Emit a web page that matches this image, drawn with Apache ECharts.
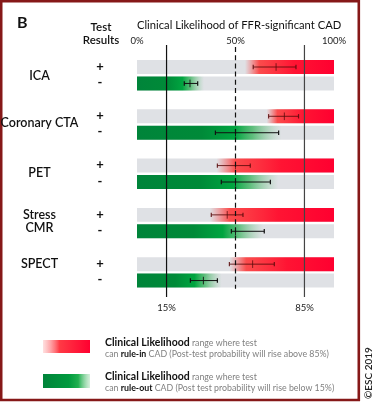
<!DOCTYPE html>
<html>
<head>
<meta charset="utf-8">
<script src="https://cdn.jsdelivr.net/npm/echarts@6/dist/echarts.min.js"></script>
<style>html,body{margin:0;padding:0;background:#fff}#c{width:374px;height:404px}</style>
</head>
<body>
<div id="c"></div>
<script>
// ---- data ----
const tests = ['ICA', 'Coronary CTA', 'PET', 'Stress\nCMR', 'SPECT'];
const ruleInStart = [54.8, 65.8, 40.4, 37.0, 46.9];   // red range starts here, runs to 100%
const ruleOutEnd  = [34.0, 73.4, 71.7, 64.1, 43.0];   // green range runs from 0% to here
const posLow  = [59.0, 66.8, 40.8, 37.7, 46.9];
const posMid  = [70.6, 74.8, 50.0, 45.8, 58.7];
const posHigh = [80.7, 82.0, 57.5, 53.8, 69.7];
const negLow  = [24.0, 39.8, 42.8, 47.9, 27.1];
const negMid  = [26.9, 50.0, 50.0, 50.0, 33.7];
const negHigh = [30.8, 71.9, 67.7, 64.6, 40.8];
const topTicks = [0, 50, 100];
const bottomTicks = [15, 85];
const refLines = [15, 50, 85];

// ---- build ----
const FONT = 'Lato';
const barData = [];
tests.forEach((t, i) => {
  barData.push([ruleInStart[i], 100, posLow[i], posMid[i], posHigh[i], 3 * i, 0]);
  barData.push([0, ruleOutEnd[i], negLow[i], negMid[i], negHigh[i], 3 * i + 1, 1]);
});

const redGrad = () => new echarts.graphic.LinearGradient(0, 0, 1, 0, [
  {offset: 0, color: 'rgba(255,70,70,0)'},
  {offset: 0.16, color: 'rgba(255,55,55,0.88)'},
  {offset: 0.55, color: '#ff1433'},
  {offset: 1, color: '#ff0030'}
]);
const greenGrad = () => new echarts.graphic.LinearGradient(0, 0, 1, 0, [
  {offset: 0, color: '#00843a'},
  {offset: 0.45, color: '#008a38'},
  {offset: 0.68, color: '#00a540'},
  {offset: 0.8, color: 'rgba(40,175,80,0.7)'},
  {offset: 1, color: 'rgba(120,200,140,0)'}
]);

function renderBar(params, api) {
  const slot = api.value(5), kind = api.value(6);
  const p0 = api.coord([0, slot]), p100 = api.coord([100, slot]);
  const h = api.size([0, 1])[1] * 0.85;
  const y = p0[1];
  const s = api.coord([api.value(0), slot])[0], e = api.coord([api.value(1), slot])[0];
  const lo = api.coord([api.value(2), slot])[0], mid = api.coord([api.value(3), slot])[0], hi = api.coord([api.value(4), slot])[0];
  const ec = kind === 0 ? 'rgba(90,10,10,0.85)' : '#111';
  return {
    type: 'group',
    children: [
      {type: 'rect', shape: {x: p0[0], y: y - h / 2, width: p100[0] - p0[0], height: h}, style: {fill: '#dfe1e5'}},
      {type: 'rect', shape: {x: s, y: y - h / 2, width: e - s, height: h}, style: {fill: kind === 0 ? redGrad() : greenGrad()}},
      {type: 'line', shape: {x1: lo, y1: y, x2: hi, y2: y}, style: {stroke: ec, lineWidth: 1}},
      {type: 'line', shape: {x1: lo, y1: y - 2.2, x2: lo, y2: y + 2.2}, style: {stroke: ec, lineWidth: 1.2}},
      {type: 'line', shape: {x1: hi, y1: y - 2.2, x2: hi, y2: y + 2.2}, style: {stroke: ec, lineWidth: 1.2}},
      {type: 'line', shape: {x1: mid, y1: y - 3.8, x2: mid, y2: y + 3.8}, style: {stroke: ec, lineWidth: 0.9}},
      {type: 'text', style: {text: kind === 0 ? '+' : '-', x: p0[0] - 37, y: y - 0.5, align: 'center', verticalAlign: 'middle',
        font: 'bold 13px ' + FONT, fill: '#111'}}
    ]
  };
}

function renderLine(params, api) {
  const v = api.value(0);
  const cs = params.coordSys;
  const x = api.coord([v, 0])[0];
  const dashed = v === 50;
  const yBottom = dashed ? api.coord([v, 13.5])[1] : cs.y + cs.height;
  return {
    type: 'line',
    shape: {x1: x, y1: cs.y + (dashed ? 2 : 0), x2: x, y2: yBottom},
    style: {stroke: v === 85 ? '#444' : '#111', lineWidth: 1.2, lineDash: dashed ? [5, 3.2] : null}
  };
}

const chart = echarts.init(document.getElementById('c'));
const rowLabelY = [75.5, 123, 173, 221.5, 264];
const graphics = [
  {type: 'rect', shape: {x: 1.2, y: 1.3, width: 357.6, height: 398.7}, style: {fill: 'none', stroke: '#861818', lineWidth: 2.6}},
  {type: 'text', style: {text: 'B', x: 17, y: 23, verticalAlign: 'middle', font: 'bold 16px ' + FONT, fill: '#111'}},
  {type: 'text', style: {text: 'Test\nResults', x: 101, y: 33.5, align: 'center', verticalAlign: 'middle', lineHeight: 13, font: '600 11.5px ' + FONT, fill: '#111'}},
  {type: 'text', rotation: Math.PI / 2, x: 369, y: 373, style: {text: '\u00A9ESC 2019', align: 'center', verticalAlign: 'middle', font: '600 10px ' + FONT, fill: '#222'}}
];
tests.forEach((t, i) => {
  graphics.push({type: 'text', style: {text: t, x: 39.5, y: rowLabelY[i], align: 'center', verticalAlign: 'middle', lineHeight: 13, font: '600 12.5px ' + FONT, fill: '#111'}});
});
// legend
const legendRich = {
  b: {font: 'bold 10.5px ' + FONT, fill: '#111'},
  s: {font: 'bold 8.8px ' + FONT, fill: '#111'},
  n: {font: '8.8px ' + FONT, fill: '#808080'}
};
graphics.push(
  {type: 'rect', shape: {x: 43, y: 340, width: 47, height: 13}, style: {fill: new echarts.graphic.LinearGradient(0, 0, 1, 0, [
    {offset: 0, color: 'rgba(255,150,150,0.3)'}, {offset: 0.35, color: '#ff3a45'}, {offset: 1, color: '#ff0030'}])}},
  {type: 'rect', shape: {x: 43, y: 374, width: 47, height: 14}, style: {fill: new echarts.graphic.LinearGradient(0, 0, 1, 0, [
    {offset: 0, color: '#00843a'}, {offset: 0.55, color: '#009a3e'}, {offset: 0.75, color: '#20b050'}, {offset: 1, color: 'rgba(150,215,165,0.4)'}])}},
  {type: 'text', style: {x: 105, y: 343, verticalAlign: 'middle', text: '{b|Clinical Likelihood}{n| range where test}', rich: legendRich}},
  {type: 'text', style: {x: 105, y: 354, verticalAlign: 'middle', text: '{n|can }{s|rule-in}{n| CAD (Post-test probability will rise above 85%)}', rich: legendRich}},
  {type: 'text', style: {x: 105, y: 377, verticalAlign: 'middle', text: '{b|Clinical Likelihood}{n| range where test}', rich: legendRich}},
  {type: 'text', style: {x: 105, y: 388, verticalAlign: 'middle', text: '{n|can }{s|rule-out}{n| CAD (Post test probability will rise below 15%)}', rich: legendRich}}
);

chart.setOption({
  animation: false,
  title: {text: 'Clinical Likelihood of FFR-significant CAD', left: 137, top: 20, padding: 0,
    textStyle: {fontFamily: FONT, fontSize: 11.2, fontWeight: 'normal', color: '#111'}},
  grid: {left: 137, right: 40, top: 45, bottom: 107},
  xAxis: [
    {type: 'value', position: 'top', min: 0, max: 100, interval: 50,
      axisLine: {show: false}, axisTick: {show: false}, splitLine: {show: false},
      axisLabel: {margin: -1, formatter: v => topTicks.includes(v) ? v + '%' : '', fontFamily: FONT, fontSize: 9.5, color: '#222'}},
    {type: 'value', position: 'bottom', min: 0, max: 100,
      axisLine: {show: false}, axisTick: {show: false}, splitLine: {show: false},
      axisLabel: {margin: 6, customValues: bottomTicks, formatter: v => v + '%', fontFamily: FONT, fontSize: 9.5, color: '#222'}}
  ],
  yAxis: {type: 'value', inverse: true, min: -1.34, max: 14.0, show: false},
  series: [
    {type: 'custom', renderItem: renderBar, data: barData, encode: {x: [0, 1, 2, 3, 4], y: 5}, z: 2},
    {type: 'custom', renderItem: renderLine, data: refLines.map(v => [v, 0]), encode: {x: 0, y: 1}, z: 3}
  ],
  graphic: graphics
});
</script>
</body>
</html>
